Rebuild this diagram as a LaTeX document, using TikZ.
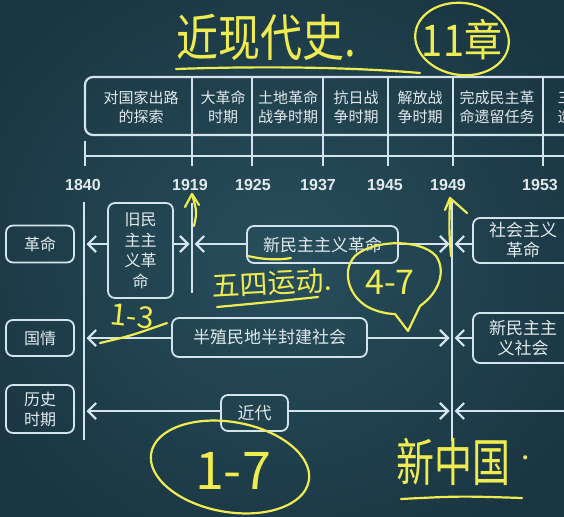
\documentclass[tikz,border=0pt]{standalone}
\usepackage{fontspec}
\newfontfamily\cjk{Noto Sans CJK SC}
\newfontfamily\yrfont{Liberation Sans}
\usetikzlibrary{arrows.meta,calc}
\definecolor{bgd}{RGB}{26,54,66}
\definecolor{bgl}{RGB}{40,78,92}
\definecolor{ln}{RGB}{212,228,236}
\definecolor{tx}{RGB}{226,234,238}
\definecolor{hy}{RGB}{238,236,80}
\begin{document}
\begin{tikzpicture}[x=1pt,y=-1pt,
  lbox/.style={draw=ln, line width=1.8pt, rounded corners=7pt, text=tx,
    font=\cjk\fontsize{16}{20}\selectfont, align=center, inner sep=0pt},
  hdr/.style={text=tx, font=\cjk\fontsize{15}{19}\selectfont, align=center},
  yr/.style={text=tx, font=\yrfont\bfseries\fontsize{16}{18}\selectfont},
  tl/.style={draw=ln, line width=2.2pt},
  arr/.style={tl, -{Straight Barb[length=8pt,width=16pt,line width=2.2pt]}},
  hw/.style={draw=hy, line width=2.2pt, line cap=round, line join=round},
  hwt/.style={text=hy, inner sep=0pt}
]
\useasboundingbox (0,0) rectangle (564,516);
\clip (0,0) rectangle (564,516);
\shade[inner color=bgl, outer color=bgd] (-60,-60) rectangle (624,576);

% ---------- header table ----------
\draw[tl, rounded corners=8pt] (620,77) -- (85,77) -- (85,135) -- (620,135);
\draw[tl] (85,141) -- (85,166);
\draw[tl] (85,156) -- (620,156);
\foreach \x in {192,252,323,388,453,543}
  \draw[tl] (\x,77) -- (\x,166);
\node[hdr] (h1) at (141,107) {对国家出路\\的探索};
\node[hdr] (h2) at (223,107) {大革命\\时期};
\node[hdr] (h3) at (288,107) {土地革命\\战争时期};
\node[hdr] (h4) at (356,107) {抗日战\\争时期};
\node[hdr] (h5) at (420,107) {解放战\\争时期};
\node[hdr] (h6) at (497,107) {完成民主革\\命遗留任务};
\node[hdr] (h7) at (580,107) {三大改\\造时期};

% ---------- years ----------
\node[yr] (y1840) at (83,185) {1840};
\node[yr] (y1919) at (190,185) {1919};
\node[yr] (y1925) at (253,185) {1925};
\node[yr] (y1937) at (318,185) {1937};
\node[yr] (y1945) at (385,185) {1945};
\node[yr] (y1949) at (448,185) {1949};
\node[yr] (y1953) at (540,185) {1953};

% ---------- axis lines ----------
\coordinate (a1t) at (84,202);  \coordinate (a1b) at (84,440);
\coordinate (a2t) at (192,203); \coordinate (a2b) at (192,293);
\coordinate (a3t) at (452,200); \coordinate (a3b) at (452,441);
\draw[tl] (a1t) -- (a1b);
\draw[tl] (a2t) -- (a2b);
\draw[tl] (a3t) -- (a3b);

% ---------- row labels ----------
\node[lbox, minimum width=68pt, minimum height=37pt] (geming) at (40,244) {革命};
\node[lbox, minimum width=68pt, minimum height=36pt] (guoqing) at (40,338) {国情};
\node[lbox, minimum width=68pt, minimum height=48pt] (lishi) at (40,409) {历史\\时期};

% ---------- boxes ----------
\node[lbox, minimum width=65pt, minimum height=95pt, font=\cjk\fontsize{16}{20.5}\selectfont] (jiu) at (140.5,250.5) {旧民\\主主\\义革\\命};
\node[lbox, minimum width=151pt, minimum height=37pt, font=\cjk\fontsize{17}{20}\selectfont] (xinmin) at (322.5,244.5) {新民主主义革命};
\node[lbox, minimum width=100pt, minimum height=45pt, font=\cjk\fontsize{17}{20}\selectfont] (shehui) at (523,240.5) {社会主义\\革命};
\node[lbox, minimum width=195pt, minimum height=39pt, font=\cjk\fontsize{17}{20}\selectfont] (banzhi) at (269.5,337.5) {半殖民地半封建社会};
\node[lbox, minimum width=100pt, minimum height=50pt, font=\cjk\fontsize{17}{20}\selectfont] (xinshe) at (523,338) {新民主主\\义社会};
\node[lbox, minimum width=67pt, minimum height=36pt, font=\cjk\fontsize{17}{20}\selectfont] (jindai) at (254.5,413) {近代};

% ---------- row connectors ----------
\coordinate (r1) at (0,244);
\coordinate (r2) at (0,338);
\coordinate (r3) at (0,411);
\coordinate (rend) at (580,411);
\draw[arr] (jiu.west |- r1) -- ($(a1t |- r1)+(2.5,0)$);
\draw[arr] (jiu.east |- r1) -- ($(a2t |- r1)+(-2.5,0)$);
\draw[arr] (xinmin.west |- r1) -- ($(a2t |- r1)+(2.5,0)$);
\draw[arr] (xinmin.east |- r1) -- ($(a3t |- r1)+(-2.5,0)$);
\draw[arr] (shehui.west |- r1) -- ($(a3t |- r1)+(2.5,0)$);
\draw[arr] (banzhi.west |- r2) -- ($(a1t |- r2)+(2.5,0)$);
\draw[arr] (banzhi.east |- r2) -- ($(a3t |- r2)+(-2.5,0)$);
\draw[arr] (xinshe.west |- r2) -- ($(a3t |- r2)+(2.5,0)$);
\draw[arr] (jindai.west |- r3) -- ($(a1t |- r3)+(2.5,0)$);
\draw[arr] (jindai.east |- r3) -- ($(a3t |- r3)+(-2.5,0)$);
\draw[arr] (rend) -- ($(a3t |- r3)+(2.5,0)$);

% ---------- handwritten annotations ----------
\node[hwt, font=\cjk\fontsize{42}{44}\selectfont, yscale=1.2] (title) at (266,37) {近现代史.};
\draw[hw] (176,69) .. controls (260,66) and (350,67) .. (420,73);
\node[hwt, font=\cjk\fontsize{38}{40}\selectfont, yscale=1.15] (chap) at (462,40) {11章};
\draw[hw, rotate around={-8:(462,39)}] (462,39) ellipse (47pt and 36pt);

% 1919 arrow
\coordinate (p19a) at (194,226);
\coordinate (p19b) at (192,194);
\draw[hw] (p19a) .. controls (197,212) .. (p19b);
\draw[hw] (185,207) -- (p19b) -- (199,205);

% 1949 arrow
\coordinate (p49a) at (451,256);
\coordinate (p49b) at (450,198);
\draw[hw] (p49a) .. controls (449,230) .. (p49b);
\draw[hw] (445,210) -- (p49b) -- (467,213);

% 五四运动
\node[hwt, font=\cjk\fontsize{28}{30}\selectfont, rotate=3] (wusi) at (272,283) {五四运动.};
\draw[hw] (217,307) .. controls (260,303) .. (318,297);
\draw[hw] (248,256) .. controls (265,260) and (280,260) .. (291,258);

% 4-7 bubble
\node[hwt, font=\cjk\fontsize{34}{36}\selectfont] (sq) at (390,282) {4-7};
\draw[hw] (420,306) .. controls (440,292) and (446,270) .. (436,256)
  .. controls (420,238) and (372,240) .. (355,256)
  .. controls (340,272) and (350,300) .. (372,309)
  .. controls (382,313) and (390,314) .. (395,314) -- (408,331) -- (420,306);

% 1-3
\node[hwt, font=\cjk\fontsize{30}{32}\selectfont, rotate=-6] (yisan) at (132,316) {1-3};
\draw[hw] (100,343) .. controls (130,336) .. (167,323);

% 1-7
\node[hwt, font=\cjk\fontsize{52}{54}\selectfont] (yiqi) at (233,471) {1-7};
\draw[hw, rotate around={-10:(230,467)}] (230,467) ellipse (80pt and 45pt);

% 新中国
\node[hwt, font=\cjk\fontsize{38}{40}\selectfont, yscale=1.35] (xzg) at (453,462) {新中国};
\node[hwt, font=\cjk\fontsize{30}{30}\selectfont] (dot) at (526,458) {.};
\draw[hw] (401,499) .. controls (460,496) .. (522,498);
\end{tikzpicture}
\end{document}
